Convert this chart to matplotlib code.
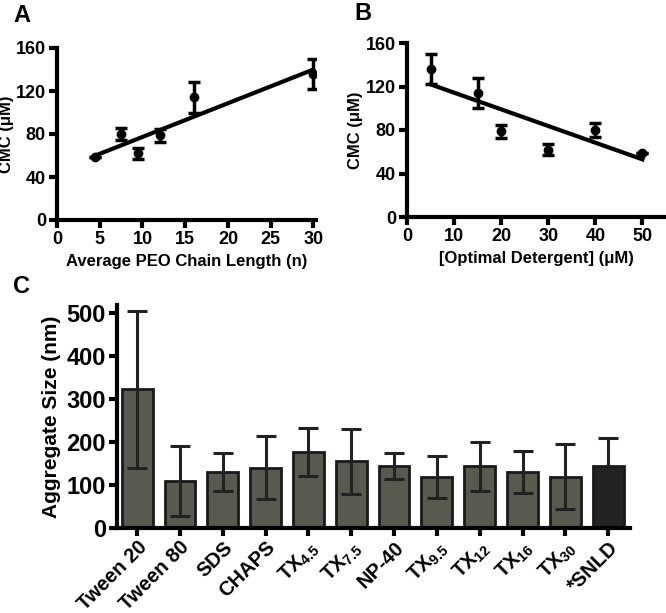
import matplotlib
matplotlib.use("Agg")
import matplotlib.pyplot as plt
import numpy as np

plt.rcParams['font.family'] = ['Liberation Sans', 'DejaVu Sans']
plt.rcParams['font.weight'] = 'bold'
plt.rcParams['mathtext.fontset'] = 'custom'
plt.rcParams['mathtext.rm'] = 'Liberation Sans:bold'
plt.rcParams['mathtext.it'] = 'Liberation Sans:bold'
plt.rcParams['mathtext.bf'] = 'Liberation Sans:bold'
plt.rcParams['mathtext.default'] = 'bf'

# Panel A data
peo_len = [4.5, 7.5, 9.5, 12, 16, 30]
cmc_a = [59, 80, 62, 79, 114, 136]
cmc_a_err = [0, 6, 5, 6, 14, 14]
fit_a_x = [4.5, 30]
fit_a_y = [60, 140]

# Panel B data
opt_det = [5, 15, 20, 30, 40, 50]
cmc_b = [136, 114, 79, 62, 80, 59]
cmc_b_err = [14, 14, 6, 5, 6, 0]
fit_b_x = [5, 50]
fit_b_y = [122, 53]

# Panel C data
detergents = ['Tween 20', 'Tween 80', 'SDS', 'CHAPS', r'TX$_{4.5}$', r'TX$_{7.5}$',
              'NP-40', r'TX$_{9.5}$', r'TX$_{12}$', r'TX$_{16}$', r'TX$_{30}$', '*SNLD']
agg_size = [322, 110, 130, 140, 177, 155, 144, 119, 143, 130, 119, 143]
agg_err = [183, 81, 45, 73, 56, 76, 30, 49, 57, 49, 75, 67]

fig = plt.figure(figsize=(6.66, 6.13), dpi=100)

LW = 3.0

def style(ax, fs):
    for s in ['top', 'right']:
        ax.spines[s].set_visible(False)
    for s in ['left', 'bottom']:
        ax.spines[s].set_linewidth(LW)
        ax.spines[s].set_color('black')
    ax.tick_params(width=LW, length=6, labelsize=fs, pad=2)
    for lab in ax.get_xticklabels() + ax.get_yticklabels():
        lab.set_fontweight('bold')

# A
axA = fig.add_axes([57/666, 1-220/613, (316-57)/666, (220-48)/613])
axA.errorbar(peo_len, cmc_a, yerr=cmc_a_err, fmt='o', color='black', ms=6,
             capsize=4, elinewidth=2.5, capthick=2.5)
axA.plot(fit_a_x, fit_a_y, color='black', lw=3)
axA.set_xlim(0, 30.3)
axA.set_ylim(0, 160)
axA.set_xticks([0, 5, 10, 15, 20, 25, 30])
axA.set_yticks([0, 40, 80, 120, 160])
style(axA, 13)
axA.set_xlabel('Average PEO Chain Length (n)', fontsize=12, fontweight='bold', labelpad=4)
axA.set_ylabel('CMC (\u03bcM)', fontsize=12, fontweight='bold')
axA.yaxis.set_label_coords(-43/259, 0.5)
fig.text(13/666, 1-15/613, 'A', fontsize=17, fontweight='bold', va='center', ha='left')

# B
axB = fig.add_axes([407/666, 1-217/613, (666-407)/666, (217-43)/613])
axB.errorbar(opt_det, cmc_b, yerr=cmc_b_err, fmt='o', color='black', ms=6,
             capsize=4, elinewidth=2.5, capthick=2.5)
axB.plot(fit_b_x, fit_b_y, color='black', lw=3)
axB.set_xlim(0, 55)
axB.set_ylim(0, 160)
axB.set_xticks([0, 10, 20, 30, 40, 50])
axB.set_yticks([0, 40, 80, 120, 160])
style(axB, 13)
axB.set_xlabel('[Optimal Detergent] (\u03bcM)', fontsize=12, fontweight='bold', labelpad=4)
axB.set_ylabel('CMC (\u03bcM)', fontsize=12, fontweight='bold', labelpad=2)
fig.text(354/666, 1-13/613, 'B', fontsize=17, fontweight='bold', va='center', ha='left')

# C
axC = fig.add_axes([117/666, 1-528/613, (630-117)/666, (528-305)/613])
x = np.arange(len(detergents))
colors = ['#575a4e'] * (len(detergents) - 1) + ['#232323']
axC.bar(x, agg_size, width=0.72, color=colors, edgecolor='#1a1a1a', linewidth=2)
axC.errorbar(x, agg_size, yerr=agg_err, fmt='none', ecolor='#222222',
             elinewidth=2.2, capsize=7, capthick=2.2)
axC.set_xlim(-0.47, 11.51)
axC.set_ylim(0, 518)
axC.set_yticks([0, 100, 200, 300, 400, 500])
axC.set_xticks(x)
axC.set_xticklabels(detergents, rotation=45, ha='right', rotation_mode='anchor')
style(axC, 17)
axC.tick_params(axis='x', labelsize=14.5, pad=1)
axC.set_ylabel('Aggregate Size (nm)', fontsize=15, fontweight='bold', labelpad=4)
fig.text(13/666, 1-287/613, 'C', fontsize=17, fontweight='bold', va='center', ha='left')

fig.savefig('out.png', dpi=100)
